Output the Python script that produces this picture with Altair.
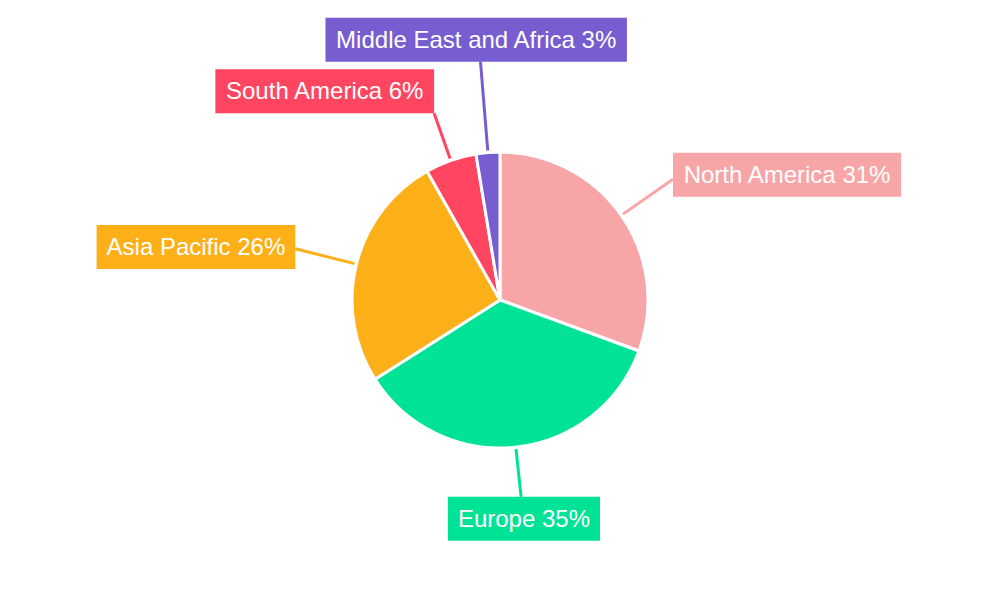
import math
import altair as alt
import pandas as pd

# ---- data ----
regions = ["North America", "Europe", "Asia Pacific", "South America", "Middle East and Africa"]
shares = [30.6, 35.4, 25.8, 5.6, 2.6]
colors = ["#F8A5A7", "#00E396", "#FEB019", "#FF4560", "#775DD0"]

# ---- layout settings ----
W, H = 984, 584
PIE_R = 148
LINE_START_R = 150
label_r = [211, 198, 211, 198, 239]   # leader line end radius per slice
FONT_SIZE = 24
PAD_X = 10
BOX_H = 44

# Arial/Helvetica advance widths (per 1000 em) for label width estimation
cw = {" ": 278, "%": 889, "A": 667, "E": 667, "M": 833, "N": 722, "P": 667, "S": 667,
      "a": 556, "c": 500, "d": 556, "e": 556, "f": 278, "h": 556, "i": 222, "l": 222,
      "m": 833, "n": 556, "o": 556, "p": 556, "r": 333, "s": 500, "t": 278, "u": 556}


def text_w(s):
    return sum(cw.get(ch, 556) for ch in s) * FONT_SIZE / 1000.0


def factor(v, thr):
    return (1 if v > 0 else -1) if abs(v) > thr else 0.35 * v


total = sum(shares)
rows = []
cum = 0.0
for i, (name, v) in enumerate(zip(regions, shares)):
    mid = (cum + v / 2) / total * 2 * math.pi
    cum += v
    s, c = math.sin(mid), math.cos(mid)
    label = f"{name} {int(round(v))}%"
    x0, y0 = LINE_START_R * s, LINE_START_R * c
    x1, y1 = label_r[i] * s, label_r[i] * c
    w = text_w(label) + 2 * PAD_X
    hf = factor(s, 0.3)
    vf = factor(c, 0.6)
    cx = x1 + hf * w / 2
    cy = y1 + vf * BOX_H / 2
    rows.append(dict(name=name, value=v, idx=i, label=label,
                     x0=x0, y0=y0, x1=x1, y1=y1,
                     bx1=cx - w / 2, bx2=cx + w / 2, by1=cy - BOX_H / 2, by2=cy + BOX_H / 2,
                     cx=cx, cy=cy))
df = pd.DataFrame(rows)

xs = alt.Scale(domain=[-W / 2, W / 2], nice=False, zero=False)
ys = alt.Scale(domain=[-H / 2, H / 2], nice=False, zero=False)
col = alt.Color("name:N", scale=alt.Scale(domain=regions, range=colors), legend=None)

base = alt.Chart(df)

pie = base.mark_arc(radius=PIE_R, stroke="white", strokeWidth=3).encode(
    theta=alt.Theta("value:Q", stack=True),
    order=alt.Order("idx:Q"),
    color=col,
)

lines = base.mark_rule(strokeWidth=3).encode(
    x=alt.X("x0:Q", scale=xs, axis=None),
    y=alt.Y("y0:Q", scale=ys, axis=None),
    x2="x1:Q",
    y2="y1:Q",
    color=col,
)

boxes = base.mark_rect().encode(
    x=alt.X("bx1:Q", scale=xs, axis=None),
    x2="bx2:Q",
    y=alt.Y("by1:Q", scale=ys, axis=None),
    y2="by2:Q",
    color=col,
)

texts = base.mark_text(color="white", fontSize=FONT_SIZE, font="Liberation Sans, Arial, sans-serif",
                       align="center", baseline="middle", dy=1).encode(
    x=alt.X("cx:Q", scale=xs, axis=None),
    y=alt.Y("cy:Q", scale=ys, axis=None),
    text="label:N",
)

chart = alt.layer(lines, pie, boxes, texts).properties(
    width=W, height=H, padding=0, background="white"
).configure_view(stroke=None)

chart.save("out.html", embed_options={"renderer": "svg", "actions": False})
